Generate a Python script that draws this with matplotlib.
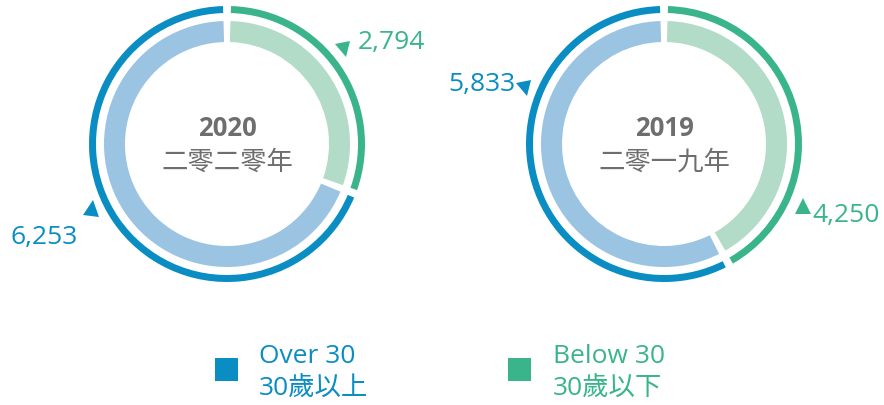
import matplotlib
matplotlib.use("Agg")
import matplotlib.pyplot as plt
from matplotlib.patches import Wedge, Rectangle
from matplotlib.markers import MarkerStyle
from matplotlib.transforms import Affine2D

# ---- data ----
years = ["2020", "2019"]
year_cn = ["二零二零年", "二零一九年"]
below_30 = [2794, 4250]
over_30 = [6253, 5833]
value_labels_below = ["2,794", "4,250"]
value_labels_over = ["6,253", "5,833"]
legend_en = ["Over 30", "Below 30"]
legend_cn = ["30歲以上", "30歲以下"]

# ---- style ----
W, H = 884, 406
BLUE = "#0A8DC2"
GREEN = "#3AB58B"
LBLUE = "#9BC4E2"
LGREEN = "#B2DCC7"
GRAY = "#6E6E6E"
FONT = ["Open Sans", "Noto Sans CJK TC", "DejaVu Sans"]
plt.rcParams["font.family"] = FONT
FS = 19

fig = plt.figure(figsize=(W / 100, H / 100), dpi=100)
ax = fig.add_axes([0, 0, 1, 1])
ax.set_xlim(0, W)
ax.set_ylim(0, H)
ax.set_aspect("equal")
ax.axis("off")


def Y(py):
    return H - py


centers = [(227, Y(145)), (664, Y(145))]
R_OUT, W_OUT = 138, 7
R_IN, W_IN = 123, 21


def ring(center, values, colors, r, w, gap_px, edge=None):
    total = sum(values)
    start = 90.0
    for v, c in zip(values, colors):
        sweep = 360.0 * v / total
        gap_deg = (gap_px / r) * 180 / 3.14159 / 2
        t1 = start - sweep + gap_deg
        t2 = start - gap_deg
        ax.add_patch(Wedge(center, r, t1, t2, width=w, facecolor=c,
                           edgecolor=edge if edge else "none",
                           linewidth=0.6 if edge else 0))
        start -= sweep


for i in range(2):
    vals = [below_30[i], over_30[i]]
    ring(centers[i], vals, [GREEN, BLUE], R_OUT, W_OUT, 8)
    ring(centers[i], vals, [LGREEN, LBLUE], R_IN, W_IN, 7)
    cx, cy = centers[i]
    ax.text(cx, cy + 16, years[i], ha="center", va="center", fontsize=FS - 0.5,
            fontweight="bold", color=GRAY)
    ax.text(cx, cy - 17, year_cn[i], ha="center", va="center", fontsize=FS,
            color=GRAY, family=["Noto Sans CJK TC", "DejaVu Sans"])

# value labels and triangle pointers
label_specs = [
    # text, color, text x, text y, ha, tri x, tri y, marker, rot
    (value_labels_below[0], GREEN, 358, 43, "left", 344, 51, "v", 12),
    (value_labels_over[0], BLUE, 78, 238, "right", 92, 209, "^", -8),
    (value_labels_over[1], BLUE, 515, 85, "right", 525, 90, "v", 12),
    (value_labels_below[1], GREEN, 812, 216, "left", 803, 207, "^", 0),
]
for txt, col, tx, ty, ha, mx, my, mk, rot in label_specs:
    ax.text(tx, Y(ty), txt, ha=ha, va="center", fontsize=FS, color=col)
    ms = MarkerStyle(mk, transform=Affine2D().rotate_deg(rot))
    ax.plot([mx], [Y(my)], marker=ms, markersize=11, color=col,
            markeredgewidth=0, linestyle="none")

# legend
leg_x = [215, 508]
leg_text_x = [259, 553]
leg_colors = [BLUE, GREEN]
for i in range(2):
    ax.add_patch(Rectangle((leg_x[i], Y(382)), 23, 23, facecolor=leg_colors[i],
                           edgecolor="none"))
    ax.text(leg_text_x[i], Y(357), legend_en[i], ha="left", va="center",
            fontsize=FS, color=leg_colors[i])
    ax.text(leg_text_x[i], Y(389), legend_cn[i], ha="left", va="center",
            fontsize=FS, color=leg_colors[i])

fig.savefig("out.png", dpi=100)
